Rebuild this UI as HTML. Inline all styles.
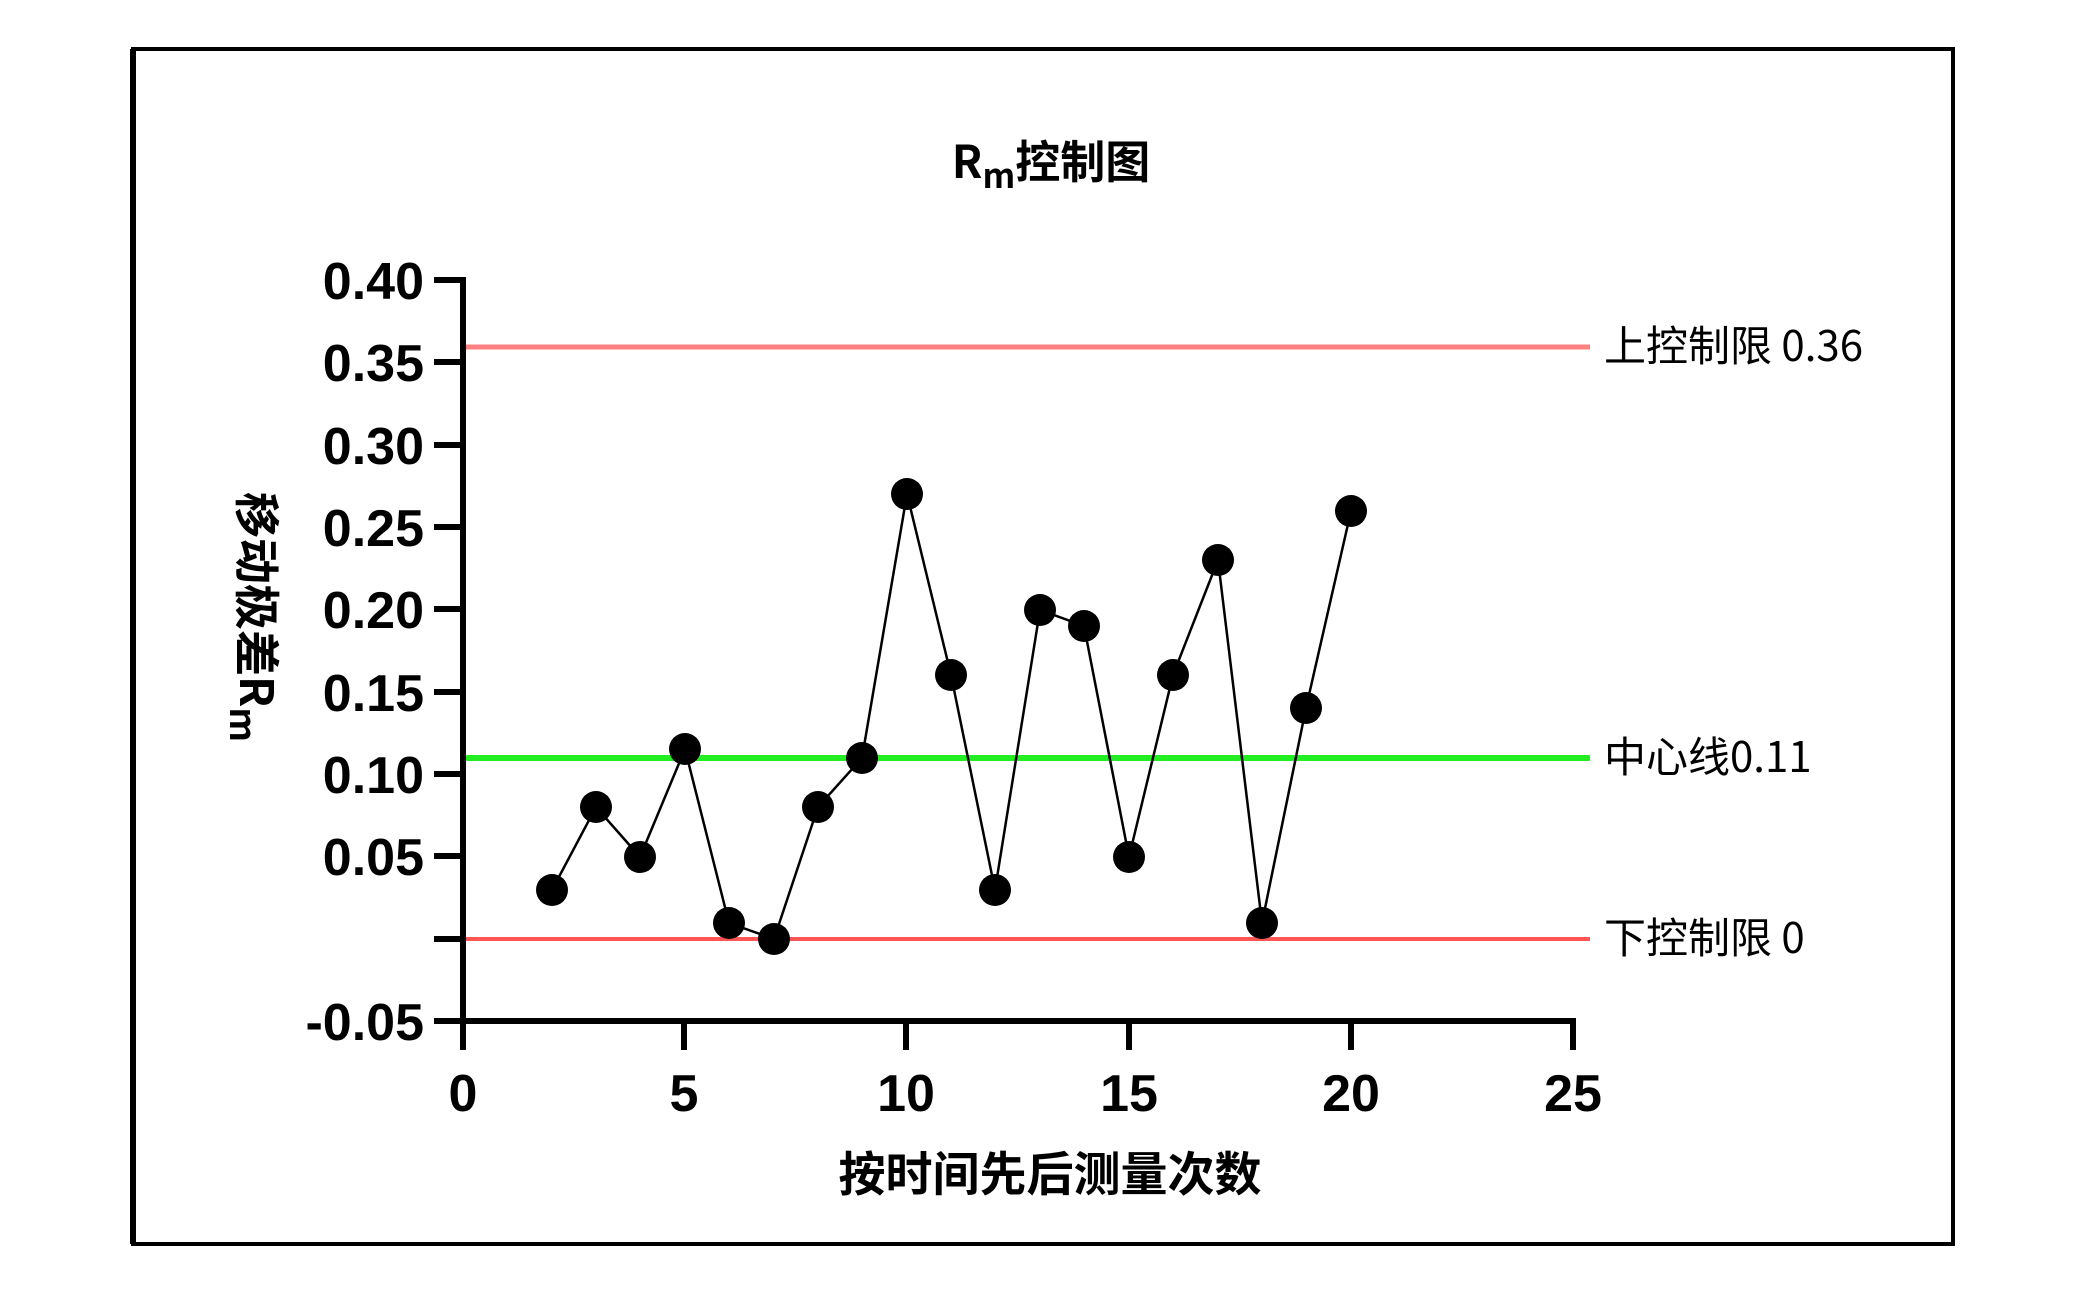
<!DOCTYPE html>
<html><head><meta charset="utf-8"><style>
html,body{margin:0;padding:0;background:#fff;}
svg{display:block;}
.t{font-family:"Liberation Sans","Noto Sans CJK SC",sans-serif;font-weight:bold;fill:#000;}
.c{font-family:"Noto Sans CJK SC","Liberation Sans",sans-serif;fill:#000;}
</style></head><body>
<svg width="2100" height="1300" viewBox="0 0 2100 1300" xmlns="http://www.w3.org/2000/svg">
<rect x="0" y="0" width="2100" height="1300" fill="#fff"/>
<rect x="133" y="49" width="1820" height="1195" fill="none" stroke="#000" stroke-width="4"/>
<line x1="133" y1="49" x2="133" y2="1244" stroke="#000" stroke-width="6"/>
<text x="1051" y="178" text-anchor="middle" class="c" font-weight="bold" font-size="45">R<tspan font-size="34" dy="10">m</tspan><tspan dy="-10">控制图</tspan></text>
<!-- control lines -->
<line x1="465" y1="347" x2="1590" y2="347" stroke="#ff8080" stroke-width="5"/>
<line x1="465" y1="758" x2="1590" y2="758" stroke="#22ee22" stroke-width="6"/>
<line x1="465" y1="939" x2="1590" y2="939" stroke="#ff5555" stroke-width="4"/>
<!-- axes -->
<g stroke="#000" stroke-width="6" fill="none">
<line x1="463" y1="277" x2="463" y2="1050"/>
<line x1="460" y1="1021" x2="1573" y2="1021"/>
<line x1="1573" y1="1018" x2="1573" y2="1050"/>
<line x1="463" y1="1018" x2="463" y2="1050"/>
<line x1="684" y1="1018" x2="684" y2="1050"/>
<line x1="906" y1="1018" x2="906" y2="1050"/>
<line x1="1129" y1="1018" x2="1129" y2="1050"/>
<line x1="1351" y1="1018" x2="1351" y2="1050"/>
<line x1="434" y1="280" x2="466" y2="280"/>
<line x1="434" y1="362" x2="466" y2="362"/>
<line x1="434" y1="445" x2="466" y2="445"/>
<line x1="434" y1="527" x2="466" y2="527"/>
<line x1="434" y1="609" x2="466" y2="609"/>
<line x1="434" y1="692" x2="466" y2="692"/>
<line x1="434" y1="774" x2="466" y2="774"/>
<line x1="434" y1="856" x2="466" y2="856"/>
<line x1="434" y1="939" x2="466" y2="939"/>
<line x1="434" y1="1021" x2="466" y2="1021"/>
</g>
<g class="t" font-size="52" text-anchor="end">
<text x="424" y="299">0.40</text>
<text x="424" y="381">0.35</text>
<text x="424" y="464">0.30</text>
<text x="424" y="546">0.25</text>
<text x="424" y="628">0.20</text>
<text x="424" y="711">0.15</text>
<text x="424" y="793">0.10</text>
<text x="424" y="875">0.05</text>
<text x="424" y="1040">-0.05</text>
</g>
<g class="t" font-size="52" text-anchor="middle">
<text x="463" y="1111">0</text>
<text x="684" y="1111">5</text>
<text x="906" y="1111">10</text>
<text x="1129" y="1111">15</text>
<text x="1351" y="1111">20</text>
<text x="1573" y="1111">25</text>
</g>
<text x="1050" y="1191" text-anchor="middle" class="c" font-weight="bold" font-size="47">按时间先后测量次数</text>
<text transform="translate(240,617) rotate(90)" text-anchor="middle" class="c" font-weight="bold" font-size="46">移动极差R<tspan font-size="36" dy="10">m</tspan></text>
<g class="c" font-size="42">
<text x="1604" y="361">上控制限 0.36</text>
<text x="1604" y="772">中心线0.11</text>
<text x="1604" y="953">下控制限 0</text>
</g>
<!-- data -->
<polyline fill="none" stroke="#000" stroke-width="2.5" points="552,890 596,807 640,857 685,749 729,923 774,939 818,807 862,758 907,494 951,675 995,890 1040,610 1084,626 1129,857 1173,675 1218,560 1262,923 1306,708 1351,511"/>
<g fill="#000">
<circle cx="552" cy="890" r="16"/><circle cx="596" cy="807" r="16"/><circle cx="640" cy="857" r="16"/><circle cx="685" cy="749" r="16"/><circle cx="729" cy="923" r="16"/><circle cx="774" cy="939" r="16"/><circle cx="818" cy="807" r="16"/><circle cx="862" cy="758" r="16"/><circle cx="907" cy="494" r="16"/><circle cx="951" cy="675" r="16"/><circle cx="995" cy="890" r="16"/><circle cx="1040" cy="610" r="16"/><circle cx="1084" cy="626" r="16"/><circle cx="1129" cy="857" r="16"/><circle cx="1173" cy="675" r="16"/><circle cx="1218" cy="560" r="16"/><circle cx="1262" cy="923" r="16"/><circle cx="1306" cy="708" r="16"/><circle cx="1351" cy="511" r="16"/>
</g>
</svg>
</body></html>
